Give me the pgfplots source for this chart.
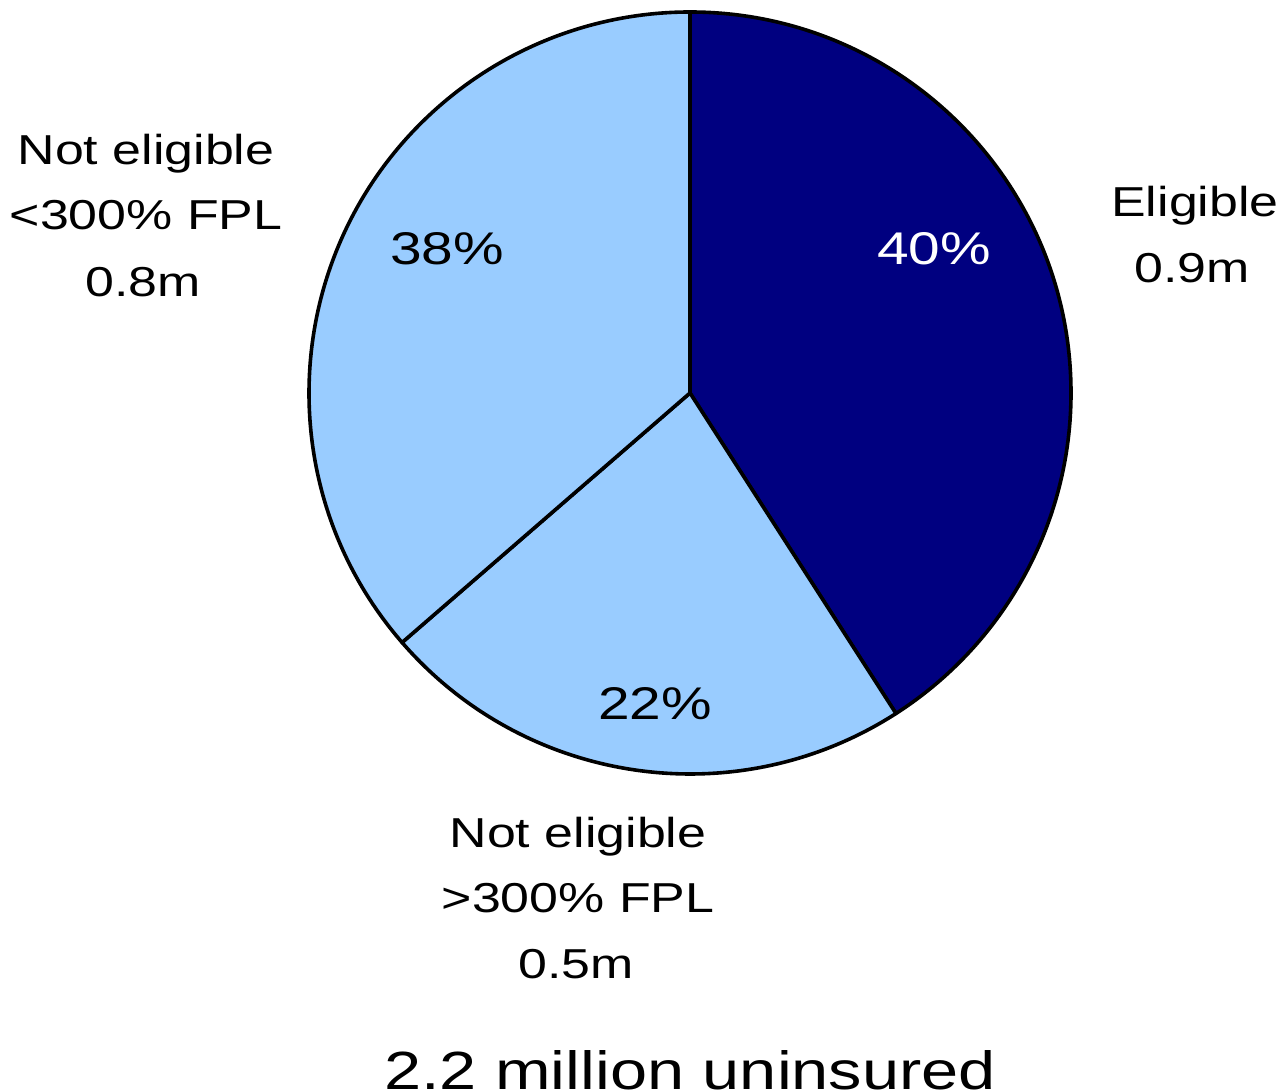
\documentclass[border=0pt]{standalone}
\usepackage{pgfplots}
\pgfplotsset{compat=1.18}
\usepackage{fontspec}
\setmainfont{Liberation Sans}[FakeStretch=1.24]

\definecolor{navyslice}{HTML}{000080}
\definecolor{lightslice}{HTML}{99CCFF}

% uninsured, millions
\def\vElig{0.9}
\def\vLow{0.5}   % >300% FPL
\def\vHigh{0.8}  % <300% FPL
\def\vTotal{2.2}
\def\rad{190.5bp}

\begin{document}
\begin{tikzpicture}
\path[use as bounding box] (0,0) rectangle (643bp,545.5bp);
\begin{axis}[
    at={(0,0)}, anchor=south west,
    scale only axis, width=643bp, height=545.5bp,
    xmin=0, xmax=1286, ymin=0, ymax=1091,
    hide axis, clip=false,
]
% slices, clockwise from 12 o'clock
\filldraw[fill=navyslice, draw=black, line width=1.8bp, line join=round]
  (axis cs:690,698) -- ++(90:\rad)
  arc[start angle=90, delta angle={-360*\vElig/\vTotal}, radius=\rad] -- cycle;
\filldraw[fill=lightslice, draw=black, line width=1.8bp, line join=round]
  (axis cs:690,698) -- ++({90-360*\vElig/\vTotal}:\rad)
  arc[start angle={90-360*\vElig/\vTotal}, delta angle={-360*\vLow/\vTotal}, radius=\rad] -- cycle;
\filldraw[fill=lightslice, draw=black, line width=1.8bp, line join=round]
  (axis cs:690,698) -- ++({90-360*(\vElig+\vLow)/\vTotal}:\rad)
  arc[start angle={90-360*(\vElig+\vLow)/\vTotal}, delta angle={-360*\vHigh/\vTotal}, radius=\rad] -- cycle;

% percentages
\node[anchor=base, font=\fontsize{23}{27}\selectfont, text=white] at (axis cs:934,826) {40\%};
\node[anchor=base, font=\fontsize{23}{27}\selectfont] at (axis cs:655,371) {22\%};
\node[anchor=base, font=\fontsize{23}{27}\selectfont] at (axis cs:447,826) {38\%};

% outside labels
\node[anchor=base, font=\fontsize{21}{25}\selectfont] at (axis cs:1195,874) {Eligible};
\node[anchor=base, font=\fontsize{21}{25}\selectfont] at (axis cs:1192,808) {0.9m};

\node[anchor=base, font=\fontsize{21}{25}\selectfont] at (axis cs:146,926) {Not eligible};
\node[anchor=base, font=\fontsize{21}{25}\selectfont] at (axis cs:146,861) {<300\% FPL};
\node[anchor=base, font=\fontsize{21}{25}\selectfont] at (axis cs:143,794) {0.8m};

\node[anchor=base, font=\fontsize{21}{25}\selectfont] at (axis cs:578,243) {Not eligible};
\node[anchor=base, font=\fontsize{21}{25}\selectfont] at (axis cs:578,178) {>300\% FPL};
\node[anchor=base, font=\fontsize{21}{25}\selectfont] at (axis cs:576,112) {0.5m};

\node[anchor=base, font=\fontsize{27}{32}\selectfont] at (axis cs:690,2) {2.2 million uninsured};
\end{axis}
\end{tikzpicture}
\end{document}
